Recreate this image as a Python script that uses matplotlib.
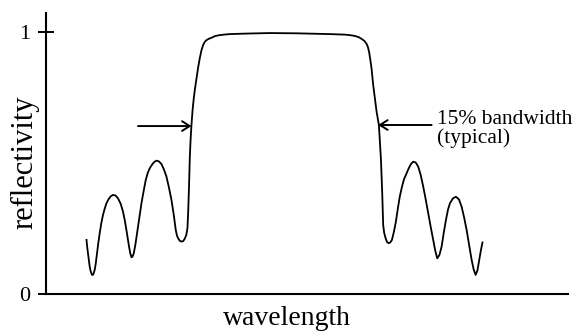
import numpy as np
import matplotlib
matplotlib.use("Agg")
import matplotlib.pyplot as plt

plt.rcParams["font.family"] = ["Liberation Serif", "DejaVu Serif"]

# reflectivity curve (wavelength in arbitrary units)
wavelength = [40.7, 41.5, 42.3, 43.2, 44.0, 45.0, 46.3, 47.5, 49.0, 50.0,
              51.3, 52.6, 54.0, 55.6, 57.3, 59.0, 60.7, 62.7, 65.0, 67.3,
              69.8, 72.3, 75.0, 77.3, 79.0, 80.7, 82.0, 83.3, 84.5, 85.7,
              86.8, 88.0, 89.6, 91.3, 93.5, 95.7, 98.0, 100.0, 102.0, 104.0,
              106.5, 108.5, 110.7, 113.2, 115.7, 118.2, 120.7, 123.2, 125.7, 128.0,
              130.0, 131.2, 132.3, 134.0, 135.7, 137.4, 139.0, 140.5, 141.7, 142.3,
              142.8, 143.3, 144.0, 144.8, 145.7, 146.8, 148.0, 149.3, 150.7, 152.3,
              154.0, 155.6, 157.3, 159.0, 160.7, 163.0, 165.7, 169.0, 172.3, 178.0,
              184.0, 200.7, 224.0, 250.7, 284.0, 299.0, 304.0, 309.0, 313.0, 316.0,
              318.5, 320.5, 322.0, 323.2, 324.2, 325.6, 327.3, 329.0, 330.7, 333.0,
              334.0, 335.0, 335.7, 336.3, 336.8, 337.3, 338.3, 339.7, 341.2, 342.8,
              344.4, 346.0, 348.0, 350.0, 352.0, 354.0, 356.0, 358.0, 360.7, 363.0,
              365.0, 367.3, 369.8, 372.3, 374.8, 377.3, 379.8, 382.3, 384.8, 387.3,
              389.3, 391.3, 393.5, 395.7, 397.8, 400.0, 402.0, 404.0, 407.0, 410.0,
              413.0, 415.7, 418.2, 420.7, 423.2, 425.7, 427.7, 429.7, 431.5, 433.3,
              435.0, 436.7]
reflectivity = [0.210, 0.179, 0.155, 0.126, 0.104, 0.086, 0.073, 0.074, 0.092, 0.115,
                0.155, 0.195, 0.232, 0.271, 0.302, 0.326, 0.346, 0.361, 0.373, 0.378,
                0.376, 0.365, 0.344, 0.314, 0.282, 0.244, 0.212, 0.181, 0.156, 0.140,
                0.143, 0.155, 0.187, 0.232, 0.290, 0.346, 0.395, 0.435, 0.462, 0.480,
                0.495, 0.504, 0.509, 0.506, 0.496, 0.475, 0.448, 0.406, 0.359, 0.302,
                0.244, 0.223, 0.213, 0.203, 0.200, 0.202, 0.211, 0.225, 0.252, 0.302,
                0.359, 0.416, 0.518, 0.588, 0.645, 0.702, 0.747, 0.786, 0.823, 0.863,
                0.900, 0.929, 0.950, 0.962, 0.969, 0.974, 0.978, 0.984, 0.987, 0.990,
                0.992, 0.994, 0.996, 0.995, 0.992, 0.990, 0.988, 0.985, 0.980, 0.973,
                0.966, 0.956, 0.943, 0.924, 0.900, 0.863, 0.798, 0.748, 0.696, 0.645,
                0.584, 0.518, 0.454, 0.390, 0.321, 0.263, 0.233, 0.213, 0.198, 0.194,
                0.197, 0.206, 0.237, 0.276, 0.328, 0.374, 0.408, 0.437, 0.461, 0.481,
                0.496, 0.505, 0.502, 0.486, 0.454, 0.410, 0.361, 0.308, 0.256, 0.206,
                0.166, 0.136, 0.149, 0.181, 0.233, 0.282, 0.321, 0.346, 0.365, 0.371,
                0.361, 0.333, 0.292, 0.244, 0.187, 0.130, 0.094, 0.073, 0.090, 0.130,
                0.168, 0.200]

yticks = [0, 1]
ytick_labels = ["0", "1"]

# bandwidth arrows: (tail x, head x, y)
arrow_left = (92.3, 145.7, 0.641)
arrow_right = (385.7, 332.3, 0.645)
note_lines = ["15% bandwidth", "(typical)"]

fig = plt.figure(figsize=(5.79, 3.31), dpi=100)
ax = fig.add_axes([0.0789, 0.1118, 0.9021, 0.8489])

ax.plot(wavelength, reflectivity, color="black", lw=1.3,
        solid_joinstyle="round", solid_capstyle="butt")

for x0, x1, y in (arrow_left, arrow_right):
    ax.annotate("", xy=(x1, y), xytext=(x0, y),
                arrowprops=dict(arrowstyle="->,head_length=0.55,head_width=0.35",
                                color="black", lw=1.4, shrinkA=0, shrinkB=0))

ax.text(390.7, 0.649, note_lines[0], fontsize=15.5, va="baseline", ha="left")
ax.text(390.7, 0.576, note_lines[1], fontsize=15.5, va="baseline", ha="left")

ax.set_xlim(0, 522)
ax.set_ylim(0, 1.0725)
ax.set_xticks([])
ax.set_yticks(yticks)
ax.set_yticklabels(ytick_labels, fontsize=16)
ax.tick_params(axis="y", direction="inout", length=12, width=1.4, pad=5)
for s in ("top", "right"):
    ax.spines[s].set_visible(False)
for s in ("left", "bottom"):
    ax.spines[s].set_linewidth(1.5)

fig.text(25 / 579, 1 - 162 / 331, "reflectivity", rotation=90, fontsize=22,
         ha="center", va="center")
fig.text(286.7 / 579, 1 - 325 / 331, "wavelength", fontsize=20,
         ha="center", va="baseline")

fig.savefig("out.png", dpi=100)
